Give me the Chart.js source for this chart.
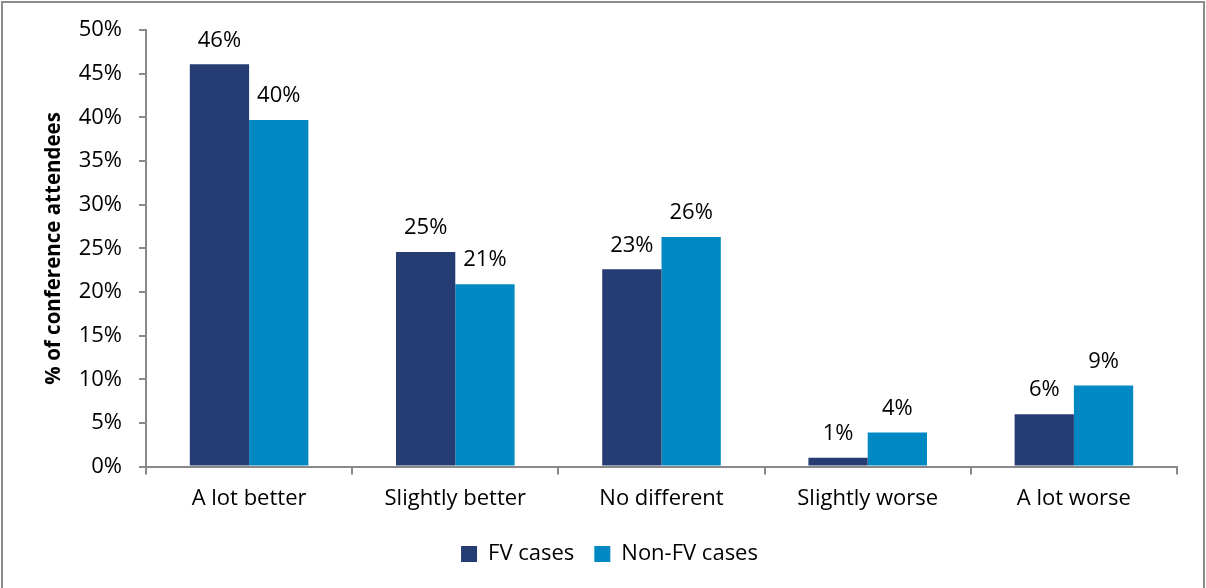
<!DOCTYPE html>
<html>
<head>
<meta charset="utf-8">
<script src="https://cdn.jsdelivr.net/npm/chart.js@4.4.1/dist/chart.umd.min.js"></script>
<style>
  html, body { margin: 0; padding: 0; background: #fff; }
  #wrap { position: relative; width: 1206px; height: 588px; }
  #frame { position: absolute; left: 1px; top: 1px; width: 1204px; height: 590px; border: 2px solid #8c8c8c; box-sizing: border-box; pointer-events: none; }
  canvas { position: absolute; left: 0; top: 0; }
</style>
</head>
<body>
<div id="wrap">
  <canvas id="chart" width="1206" height="588"></canvas>
  <div id="frame"></div>
</div>
<script>
const categories = ["A lot better", "Slightly better", "No different", "Slightly worse", "A lot worse"];
const fvCases = [46.1, 24.6, 22.6, 1.0, 6.0];
const nonFvCases = [39.7, 20.9, 26.3, 3.9, 9.3];
const fvLabels = ["46%", "25%", "23%", "1%", "6%"];
const nonFvLabels = ["40%", "21%", "26%", "4%", "9%"];
const yTicks = [0, 5, 10, 15, 20, 25, 30, 35, 40, 45, 50];

const FONT = "'Open Sans', sans-serif";
const AXIS = "#898989";

// value labels above each bar
const barLabels = {
  id: "barLabels",
  afterDatasetsDraw(chart) {
    const c = chart.ctx;
    const texts = [fvLabels, nonFvLabels];
    c.save();
    c.font = "22px " + FONT;
    c.fillStyle = "#000";
    c.textAlign = "center";
    c.textBaseline = "bottom";
    chart.data.datasets.forEach((ds, i) => {
      chart.getDatasetMeta(i).data.forEach((bar, j) => {
        c.fillText(texts[i][j], bar.x, bar.y - 13);
      });
    });
    c.restore();
  },
};

new Chart(document.getElementById("chart"), {
  type: "bar",
  data: {
    labels: categories,
    datasets: [
      {
        label: "FV cases",
        data: fvCases,
        backgroundColor: "#253d73",
      },
      {
        label: "Non-FV cases",
        data: nonFvCases,
        backgroundColor: "#0088c2",
      },
    ],
  },
  options: {
    responsive: false,
    animation: false,
    layout: { padding: { left: 42, right: 29, top: 19, bottom: 13 } },
    datasets: { bar: { categoryPercentage: 0.575, barPercentage: 1 } },
    plugins: {
      legend: {
        position: "bottom",
        labels: {
          color: "#000",
          font: { family: FONT, size: 22 },
          boxWidth: 16,
          boxHeight: 16,
          padding: 20,
        },
      },
      tooltip: { enabled: false },
    },
    scales: {
      x: {
        grid: { drawOnChartArea: false, drawTicks: true, tickLength: 8, color: AXIS, lineWidth: 2 },
        border: { display: true, color: AXIS, width: 2 },
        ticks: { color: "#000", font: { family: FONT, size: 22 }, padding: 11 },
      },
      y: {
        min: 0,
        max: 50,
        afterBuildTicks(scale) {
          scale.ticks = yTicks.map((v) => ({ value: v }));
        },
        afterFit(scale) {
          scale.width = 104;
        },
        grid: { drawOnChartArea: false, drawTicks: true, tickLength: 7, color: AXIS, lineWidth: 2 },
        border: { display: true, color: AXIS, width: 2 },
        ticks: {
          color: "#000",
          font: { family: FONT, size: 22 },
          padding: 17,
          callback: (v) => v + "%",
        },
        title: {
          display: true,
          text: "% of conference attendees",
          color: "#000",
          font: { family: FONT, size: 20.5, weight: "bold" },
          padding: { top: 0, bottom: 4 },
        },
      },
    },
  },
  plugins: [barLabels],
});
</script>
</body>
</html>
